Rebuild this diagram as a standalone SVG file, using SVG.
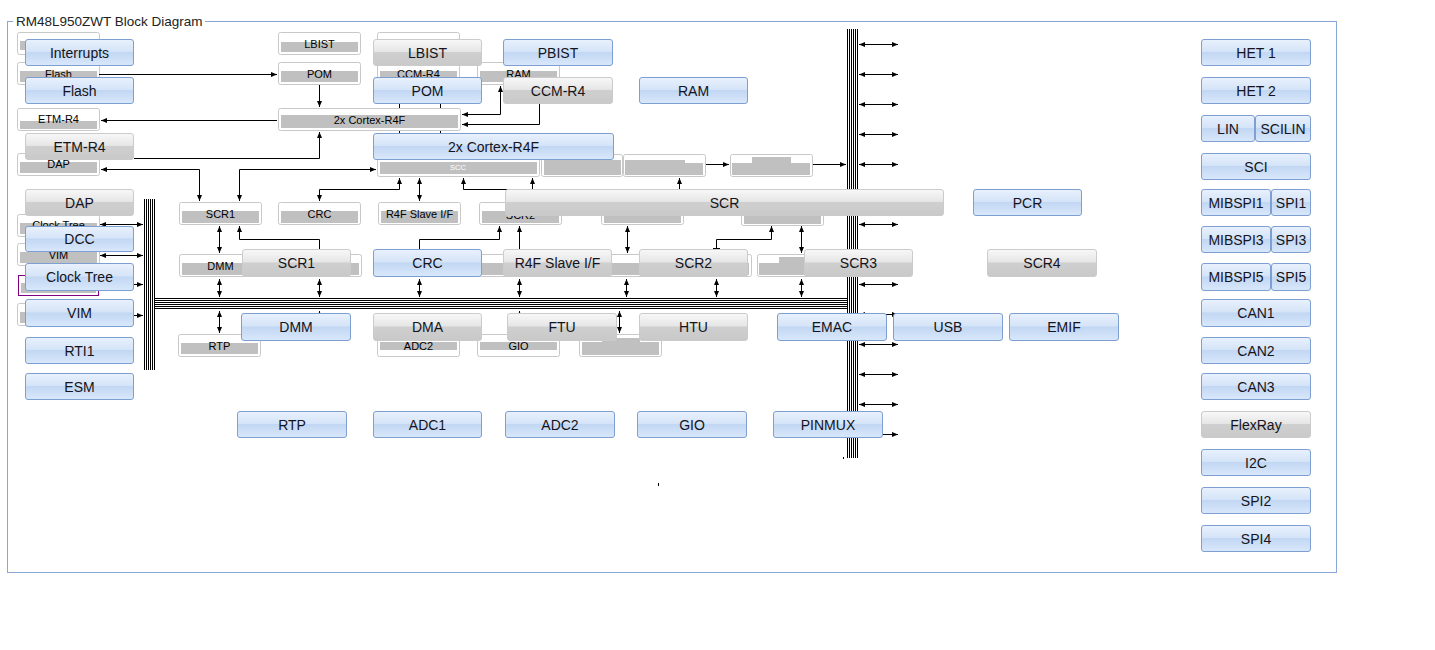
<svg xmlns="http://www.w3.org/2000/svg" width="1435" height="650" viewBox="0 0 1435 650">
<defs>
<linearGradient id="gBlue" x1="0" y1="0" x2="0" y2="1">
<stop offset="0" stop-color="#e9f1fc"/><stop offset="0.46" stop-color="#d5e4f8"/><stop offset="0.5" stop-color="#c2d7f3"/><stop offset="1" stop-color="#d9e8fb"/>
</linearGradient>
<linearGradient id="gGray" x1="0" y1="0" x2="0" y2="1">
<stop offset="0" stop-color="#f8f8f8"/><stop offset="0.46" stop-color="#e6e6e6"/><stop offset="0.5" stop-color="#cfcfcf"/><stop offset="1" stop-color="#c9c9c9"/>
</linearGradient>
<marker id="ah" viewBox="0 0 6 6" refX="6" refY="3" markerWidth="6" markerHeight="6" markerUnits="userSpaceOnUse" orient="auto-start-reverse"><path d="M0,0.5 L6,3 L0,5.5 z" fill="#000"/></marker>
</defs>
<style>
.sb{fill:#fff;stroke:#c8c8c8;stroke-width:1}
.sp{fill:#fff;stroke:#800080;stroke-width:1}
.band{fill:#c0c0c0}
.st{font-family:"Liberation Sans",Arial,sans-serif;font-size:11px;fill:#000;text-anchor:middle}
.bb{fill:url(#gBlue);stroke:#7d9fd2;stroke-width:1}
.gb{fill:url(#gGray);stroke:#cbcbcb;stroke-width:1}
.bt{font-family:"Liberation Sans",Arial,sans-serif;font-size:14px;fill:#141420;text-anchor:middle}
.ln{fill:none;stroke:#000;stroke-width:1}
.a2{marker-start:url(#ah);marker-end:url(#ah)}
.a1{marker-end:url(#ah)}
.bus{stroke:#000;stroke-width:1;fill:none}
</style>
<rect x="0" y="0" width="1435" height="650" fill="#fff"/>
<g id="frame">
<rect x="7.5" y="21.5" width="1329" height="551" fill="none" stroke="#8aa6d6"/>
<rect x="13" y="13" width="192" height="14" fill="#fff"/>
<text x="16" y="26" font-family="Liberation Sans, Arial, sans-serif" font-size="13.5" fill="#222">RM48L950ZWT Block Diagram</text>
</g>

<g id="small-boxes">
<g id="s-int"><rect class="sb" x="17.5" y="32.5" width="82" height="22" rx="2"/><rect class="band" x="20" y="41" width="77" height="9"/></g>
<g id="s-flash"><rect class="sb" x="17.5" y="62.5" width="82" height="22" rx="2"/><rect class="band" x="20" y="71" width="77" height="11"/><text class="st" x="58.5" y="78">Flash</text></g>
<g id="s-etm"><rect class="sb" x="17.5" y="108.5" width="82" height="22" rx="2"/><rect class="band" x="20" y="121" width="77" height="8"/><text class="st" x="58.5" y="123">ETM-R4</text></g>
<g id="s-dap"><rect class="sb" x="17.5" y="153.5" width="82" height="22" rx="2"/><rect class="band" x="20" y="162" width="77" height="11"/><text class="st" x="58.5" y="168">DAP</text></g>
<g id="s-clk"><rect class="sb" x="17.5" y="214.5" width="82" height="22" rx="2"/><rect class="band" x="20" y="223" width="77" height="11"/><text class="st" x="58.5" y="229">Clock Tree</text></g>
<g id="s-vim"><rect class="sb" x="17.5" y="243.5" width="82" height="22" rx="2"/><rect class="band" x="20" y="252" width="77" height="11"/><text class="st" x="58.5" y="259">VIM</text></g>
<g id="s-sel"><rect class="sp" x="18.5" y="275.5" width="80" height="20"/><rect class="band" x="21" y="283" width="75" height="10"/></g>
<g id="s-l4"><rect class="sb" x="17.5" y="303.5" width="82" height="22" rx="2"/><rect class="band" x="20" y="312" width="77" height="11"/></g>

<g id="s-lbist"><rect class="sb" x="278.5" y="32.5" width="82" height="22" rx="2"/><rect class="band" x="281" y="42" width="77" height="10"/><text class="st" x="319.5" y="48">LBIST</text></g>
<g id="s-pom"><rect class="sb" x="278.5" y="62.5" width="82" height="22" rx="2"/><rect class="band" x="281" y="71" width="77" height="11"/><text class="st" x="319.5" y="78">POM</text></g>
<g id="s-cortex"><rect class="sb" x="278.5" y="108.5" width="182" height="22" rx="2"/><rect class="band" x="281" y="115" width="177" height="13"/><text class="st" x="369.5" y="124">2x Cortex-R4F</text></g>
<g id="s-pbist"><rect class="sb" x="377.5" y="32.5" width="82" height="22" rx="2"/></g>
<g id="s-ccm"><rect class="sb" x="377.5" y="62.5" width="82" height="22" rx="2"/><rect class="band" x="380" y="71" width="77" height="11"/><text class="st" x="418.5" y="78">CCM-R4</text></g>
<g id="s-ram"><rect class="sb" x="477.5" y="62.5" width="82" height="22" rx="2"/><rect class="band" x="480" y="71" width="77" height="11"/><text class="st" x="518.5" y="78">RAM</text></g>
<g id="s-scc"><rect class="sb" x="377.5" y="154.5" width="162" height="22" rx="2"/><rect class="band" x="380" y="162" width="157" height="12"/><text x="458" y="170" font-family="Liberation Sans, Arial, sans-serif" font-size="7.5" fill="#fff" text-anchor="middle">SCC</text></g>
<g id="s-x1"><rect class="sb" x="541.5" y="154.5" width="81" height="22" rx="2"/><rect class="band" x="544" y="160" width="77" height="15"/></g>
<g id="s-x2"><rect class="sb" x="623.5" y="154.5" width="82" height="22" rx="2"/><path class="band" d="M625,160 H685 V163 H703 V175 H625 z"/></g>
<g id="s-x3"><rect class="sb" x="730.5" y="154.5" width="82" height="22" rx="2"/><path class="band" d="M732,163 H752 V157 H791 V163 H810 V175 H732 z"/></g>

<g id="s-scr1"><rect class="sb" x="179.5" y="202.5" width="82" height="22" rx="2"/><rect class="band" x="182" y="211" width="77" height="12"/><text class="st" x="220.5" y="217.5">SCR1</text></g>
<g id="s-crc"><rect class="sb" x="278.5" y="202.5" width="82" height="22" rx="2"/><rect class="band" x="281" y="211" width="77" height="12"/><text class="st" x="319.5" y="217.5">CRC</text></g>
<g id="s-r4f"><rect class="sb" x="378.5" y="202.5" width="82" height="22" rx="2"/><rect class="band" x="381" y="211" width="77" height="12"/><text class="st" x="419.5" y="217.5">R4F Slave I/F</text></g>
<g id="s-scr2"><rect class="sb" x="479.5" y="202.5" width="82" height="22" rx="2"/><rect class="band" x="482" y="211" width="77" height="12"/><text class="st" x="520.5" y="218.5">SCR2</text></g>
<g id="s-y1"><rect class="sb" x="601.5" y="202.5" width="82" height="22" rx="2"/><rect class="band" x="604" y="211" width="77" height="12"/></g>
<g id="s-y2"><rect class="sb" x="741.5" y="202.5" width="82" height="23" rx="2"/><rect class="band" x="744" y="211" width="77" height="13"/></g>

<g id="s-dmm"><rect class="sb" x="179.5" y="254.5" width="82" height="22" rx="2"/><rect class="band" x="182" y="263" width="77" height="12"/><text class="st" x="220.5" y="270">DMM</text></g>
<g id="s-z1"><rect class="sb" x="279.5" y="254.5" width="82" height="22" rx="2"/><rect class="band" x="282" y="263" width="77" height="12"/></g>
<g id="s-z2"><rect class="sb" x="379.5" y="254.5" width="82" height="22" rx="2"/><rect class="band" x="382" y="263" width="77" height="12"/></g>
<g id="s-z3"><rect class="sb" x="479.5" y="254.5" width="82" height="22" rx="2"/><rect class="band" x="482" y="263" width="77" height="12"/></g>
<g id="s-z4"><rect class="sb" x="579.5" y="254.5" width="82" height="22" rx="2"/><rect class="band" x="582" y="263" width="77" height="12"/></g>
<g id="s-z5"><rect class="sb" x="669.5" y="254.5" width="82" height="22" rx="2"/><rect class="band" x="672" y="263" width="77" height="12"/></g>
<g id="s-z6"><rect class="sb" x="757.5" y="254.5" width="82" height="22" rx="2"/><path class="band" d="M759,263 H779 V257 H837 V275 H759 z"/></g>

<g id="s-rtp"><rect class="sb" x="178.5" y="334.5" width="82" height="22" rx="2"/><rect class="band" x="181" y="343" width="77" height="11"/><text class="st" x="219.5" y="350">RTP</text></g>
<g id="s-adc2"><rect class="sb" x="377.5" y="334.5" width="82" height="22" rx="2"/><rect class="band" x="380" y="342" width="77" height="8"/><text class="st" x="418.5" y="349.5">ADC2</text></g>
<g id="s-gio"><rect class="sb" x="477.5" y="334.5" width="82" height="22" rx="2"/><rect class="band" x="480" y="342" width="77" height="8"/><text class="st" x="518.5" y="349.5">GIO</text></g>
<g id="s-w1"><rect class="sb" x="579.5" y="334.5" width="82" height="22" rx="2"/><path class="band" d="M582,342 H602 V338 H640 V342 H659 V355 H582 z"/></g>
</g>

<g id="connectors">
<path class="ln a1" d="M99,74.5 H277"/>
<path class="ln a1" d="M319.5,85 V107"/>
<path class="ln a1" d="M277,120.5 H101"/>
<path class="ln a2" d="M500.5,86 V114.5 H462"/>
<path class="ln a1" d="M539.5,104 V124.5 H462"/>
<path class="ln" d="M399.5,85 V108 M440.5,85 V108 M399.5,131 V154 M440.5,131 V154"/>
<path class="ln a1" d="M134,158.5 H319.5 V132"/>
<path class="ln a2" d="M101,169.5 H199.5 V201"/>
<path class="ln a2" d="M376,169.5 H239.5 V201"/>
<path class="ln a2" d="M319.5,201 V189.5 H399.5 V178"/>
<path class="ln a2" d="M419.5,178 V201"/>
<path class="ln a2" d="M520.5,201 V189.5 H463.5 V178"/>
<path class="ln a1" d="M532.5,202 V178"/>
<path class="ln a1" d="M679.5,202 V178"/>
<path class="ln a1" d="M706,164.5 H729"/>
<path class="ln a1" d="M813,164.5 H846"/>
<path class="ln a2" d="M219.5,226 V253"/>
<path class="ln a1" d="M319.5,254 V239.5 H239.5 V226"/>
<path class="ln a1" d="M419.5,254 V239.5 H499.5 V226"/>
<path class="ln a1" d="M519.5,254 V226"/>
<path class="ln a2" d="M627.5,226 V253"/>
<path class="ln a1" d="M716.5,254 V239.5 H771.5 V226"/>
<path class="ln" d="M713,248.5 H720"/>
<path class="ln a2" d="M801.5,226 V253"/>
<path class="ln a2" d="M219.5,279 V297"/>
<path class="ln a2" d="M319.5,279 V297"/>
<path class="ln a2" d="M419.5,279 V297"/>
<path class="ln a2" d="M519.5,279 V297"/>
<path class="ln a2" d="M626.5,279 V297"/>
<path class="ln a2" d="M716.5,279 V297"/>
<path class="ln a2" d="M801.5,279 V297"/>
<path class="ln a2" d="M219.5,311 V333"/>
<path class="ln a2" d="M319.5,311 V333"/>
<path class="ln a2" d="M519.5,311 V333"/>
<path class="ln a2" d="M619.5,311 V333"/>
<path class="ln a2" d="M100,224.5 H143"/>
<path class="ln a2" d="M100,255.5 H143"/>
<path class="ln a1" d="M99,284.5 H143"/>
<path class="ln a1" d="M99,315.5 H143"/>
<path class="ln a2" d="M859,44.5 H898"/>
<path class="ln a2" d="M859,74.5 H898"/>
<path class="ln a2" d="M859,104.5 H898"/>
<path class="ln a2" d="M859,134.5 H898"/>
<path class="ln a2" d="M859,164.5 H898"/>
<path class="ln a2" d="M859,194.5 H898"/>
<path class="ln a2" d="M859,224.5 H898"/>
<path class="ln a2" d="M859,254.5 H898"/>
<path class="ln a2" d="M859,284.5 H898"/>
<path class="ln a2" d="M859,314.5 H898"/>
<path class="ln a2" d="M859,344.5 H898"/>
<path class="ln a2" d="M859,374.5 H898"/>
<path class="ln a2" d="M859,404.5 H898"/>
<path class="ln a2" d="M859,434.5 H898"/>
<path class="bus" d="M144.5,199 V370 M146.5,199 V370 M148.5,199 V370 M150.5,199 V370 M152.5,199 V370 M154.5,199 V370"/>
<path class="bus" d="M847.5,29 V458 M849.5,29 V458 M851.5,29 V458 M853.5,29 V458 M855.5,29 V458 M857.5,29 V458"/>
<path class="bus" d="M155,298.5 H847 M155,300.5 H847 M155,302.5 H847 M155,304.5 H847 M155,306.5 H847 M155,308.5 H847"/>
<rect x="843" y="457" width="1" height="2" fill="#000"/>
<rect x="658" y="483" width="1" height="3" fill="#000"/>
</g>

<g id="buttons">
<g id="b-interrupts"><rect class="bb" x="25.5" y="39.5" width="108" height="26" rx="2.5"/><text class="bt" x="79.5" y="57.5">Interrupts</text></g>
<g id="b-flash"><rect class="bb" x="25.5" y="77.5" width="108" height="26" rx="2.5"/><text class="bt" x="79.5" y="95.5">Flash</text></g>
<g id="b-etm"><rect class="gb" x="25.5" y="133.5" width="108" height="26" rx="2.5"/><text class="bt" x="79.5" y="151.5">ETM-R4</text></g>
<g id="b-dap"><rect class="gb" x="25.5" y="189.5" width="108" height="26" rx="2.5"/><text class="bt" x="79.5" y="207.5">DAP</text></g>
<g id="b-dcc"><rect class="bb" x="25.5" y="226.5" width="108" height="25" rx="2.5"/><text class="bt" x="79.5" y="244">DCC</text></g>
<g id="b-clock"><rect class="bb" x="25.5" y="263.5" width="108" height="27" rx="2.5"/><text class="bt" x="79.5" y="282">Clock Tree</text></g>
<g id="b-vim"><rect class="bb" x="25.5" y="299.5" width="108" height="27" rx="2.5"/><text class="bt" x="79.5" y="318">VIM</text></g>
<g id="b-rti1"><rect class="bb" x="25.5" y="337.5" width="108" height="26" rx="2.5"/><text class="bt" x="79.5" y="355.5">RTI1</text></g>
<g id="b-esm"><rect class="bb" x="25.5" y="373.5" width="108" height="26" rx="2.5"/><text class="bt" x="79.5" y="391.5">ESM</text></g>

<g id="b-lbist"><rect class="gb" x="373.5" y="39.5" width="108" height="26" rx="2.5"/><text class="bt" x="427.5" y="57.5">LBIST</text></g>
<g id="b-pbist"><rect class="bb" x="503.5" y="39.5" width="109" height="26" rx="2.5"/><text class="bt" x="558" y="57.5">PBIST</text></g>
<g id="b-pom"><rect class="bb" x="373.5" y="77.5" width="108" height="26" rx="2.5"/><text class="bt" x="427.5" y="95.5">POM</text></g>
<g id="b-ccm"><rect class="gb" x="503.5" y="77.5" width="109" height="26" rx="2.5"/><text class="bt" x="558" y="95.5">CCM-R4</text></g>
<g id="b-ram"><rect class="bb" x="639.5" y="77.5" width="108" height="26" rx="2.5"/><text class="bt" x="693.5" y="95.5">RAM</text></g>
<g id="b-cortex"><rect class="bb" x="373.5" y="133.5" width="240" height="26" rx="2.5"/><text class="bt" x="493.5" y="151.5">2x Cortex-R4F</text></g>
<g id="b-scr"><rect class="gb" x="505.5" y="189.5" width="438" height="26" rx="2.5"/><text class="bt" x="724.5" y="207.5">SCR</text></g>
<g id="b-pcr"><rect class="bb" x="973.5" y="189.5" width="108" height="26" rx="2.5"/><text class="bt" x="1027.5" y="207.5">PCR</text></g>

<g id="b-scr1"><rect class="gb" x="242.5" y="249.5" width="108" height="27" rx="2.5"/><text class="bt" x="296.5" y="268">SCR1</text></g>
<g id="b-crc"><rect class="bb" x="373.5" y="249.5" width="108" height="27" rx="2.5"/><text class="bt" x="427.5" y="268">CRC</text></g>
<g id="b-r4f"><rect class="gb" x="503.5" y="249.5" width="108" height="27" rx="2.5"/><text class="bt" x="557.5" y="268">R4F Slave I/F</text></g>
<g id="b-scr2"><rect class="gb" x="639.5" y="249.5" width="108" height="27" rx="2.5"/><text class="bt" x="693.5" y="268">SCR2</text></g>
<g id="b-scr3"><rect class="gb" x="804.5" y="249.5" width="108" height="27" rx="2.5"/><text class="bt" x="858.5" y="268">SCR3</text></g>
<g id="b-scr4"><rect class="gb" x="987.5" y="249.5" width="109" height="27" rx="2.5"/><text class="bt" x="1042" y="268">SCR4</text></g>

<g id="b-dmm"><rect class="bb" x="241.5" y="313.5" width="109" height="27" rx="2.5"/><text class="bt" x="296" y="332">DMM</text></g>
<g id="b-dma"><rect class="gb" x="373.5" y="313.5" width="108" height="27" rx="2.5"/><text class="bt" x="427.5" y="332">DMA</text></g>
<g id="b-ftu"><rect class="gb" x="507.5" y="313.5" width="109" height="27" rx="2.5"/><text class="bt" x="562" y="332">FTU</text></g>
<g id="b-htu"><rect class="gb" x="639.5" y="313.5" width="108" height="27" rx="2.5"/><text class="bt" x="693.5" y="332">HTU</text></g>
<g id="b-emac"><rect class="bb" x="777.5" y="313.5" width="109" height="27" rx="2.5"/><text class="bt" x="832" y="332">EMAC</text></g>
<g id="b-usb"><rect class="bb" x="893.5" y="313.5" width="109" height="27" rx="2.5"/><text class="bt" x="948" y="332">USB</text></g>
<g id="b-emif"><rect class="bb" x="1009.5" y="313.5" width="109" height="27" rx="2.5"/><text class="bt" x="1064" y="332">EMIF</text></g>

<g id="b-rtp"><rect class="bb" x="237.5" y="411.5" width="109" height="26" rx="2.5"/><text class="bt" x="292" y="429.5">RTP</text></g>
<g id="b-adc1"><rect class="bb" x="373.5" y="411.5" width="108" height="26" rx="2.5"/><text class="bt" x="427.5" y="429.5">ADC1</text></g>
<g id="b-adc2"><rect class="bb" x="505.5" y="411.5" width="109" height="26" rx="2.5"/><text class="bt" x="560" y="429.5">ADC2</text></g>
<g id="b-gio"><rect class="bb" x="637.5" y="411.5" width="109" height="26" rx="2.5"/><text class="bt" x="692" y="429.5">GIO</text></g>
<g id="b-pinmux"><rect class="bb" x="773.5" y="411.5" width="109" height="26" rx="2.5"/><text class="bt" x="828" y="429.5">PINMUX</text></g>

<g id="b-het1"><rect class="bb" x="1201.5" y="39.5" width="109" height="26" rx="2.5"/><text class="bt" x="1256" y="57.5">HET 1</text></g>
<g id="b-het2"><rect class="bb" x="1201.5" y="77.5" width="109" height="26" rx="2.5"/><text class="bt" x="1256" y="95.5">HET 2</text></g>
<g id="b-lin"><rect class="bb" x="1201.5" y="115.5" width="53" height="26" rx="2.5"/><text class="bt" x="1228" y="133.5">LIN</text></g>
<g id="b-scilin"><rect class="bb" x="1255.5" y="115.5" width="55" height="26" rx="2.5"/><text class="bt" x="1283" y="133.5">SCILIN</text></g>
<g id="b-sci"><rect class="bb" x="1201.5" y="153.5" width="109" height="26" rx="2.5"/><text class="bt" x="1256" y="171.5">SCI</text></g>
<g id="b-mibspi1"><rect class="bb" x="1201.5" y="189.5" width="69" height="26" rx="2.5"/><text class="bt" x="1236" y="207.5">MIBSPI1</text></g>
<g id="b-spi1"><rect class="bb" x="1271.5" y="189.5" width="39" height="26" rx="2.5"/><text class="bt" x="1291" y="207.5">SPI1</text></g>
<g id="b-mibspi3"><rect class="bb" x="1201.5" y="226.5" width="69" height="26" rx="2.5"/><text class="bt" x="1236" y="244.5">MIBSPI3</text></g>
<g id="b-spi3"><rect class="bb" x="1271.5" y="226.5" width="39" height="26" rx="2.5"/><text class="bt" x="1291" y="244.5">SPI3</text></g>
<g id="b-mibspi5"><rect class="bb" x="1201.5" y="263.5" width="69" height="27" rx="2.5"/><text class="bt" x="1236" y="282">MIBSPI5</text></g>
<g id="b-spi5"><rect class="bb" x="1271.5" y="263.5" width="39" height="27" rx="2.5"/><text class="bt" x="1291" y="282">SPI5</text></g>
<g id="b-can1"><rect class="bb" x="1201.5" y="299.5" width="109" height="27" rx="2.5"/><text class="bt" x="1256" y="318">CAN1</text></g>
<g id="b-can2"><rect class="bb" x="1201.5" y="337.5" width="109" height="26" rx="2.5"/><text class="bt" x="1256" y="355.5">CAN2</text></g>
<g id="b-can3"><rect class="bb" x="1201.5" y="373.5" width="109" height="26" rx="2.5"/><text class="bt" x="1256" y="391.5">CAN3</text></g>
<g id="b-flexray"><rect class="gb" x="1201.5" y="411.5" width="109" height="26" rx="2.5"/><text class="bt" x="1256" y="429.5">FlexRay</text></g>
<g id="b-i2c"><rect class="bb" x="1201.5" y="449.5" width="109" height="26" rx="2.5"/><text class="bt" x="1256" y="467.5">I2C</text></g>
<g id="b-spi2"><rect class="bb" x="1201.5" y="487.5" width="109" height="26" rx="2.5"/><text class="bt" x="1256" y="505.5">SPI2</text></g>
<g id="b-spi4"><rect class="bb" x="1201.5" y="525.5" width="109" height="26" rx="2.5"/><text class="bt" x="1256" y="543.5">SPI4</text></g>
</g>
</svg>
